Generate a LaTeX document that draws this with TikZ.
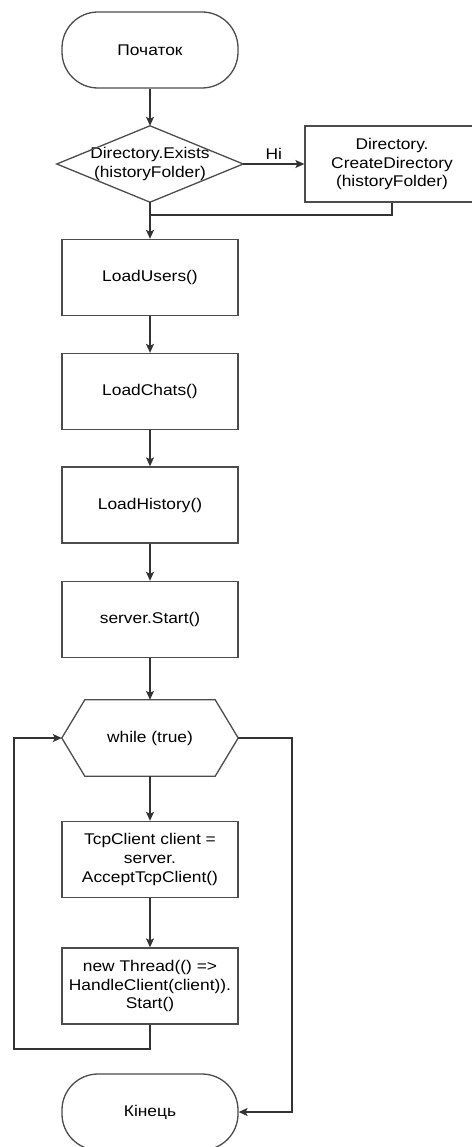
\documentclass[tikz,border=0pt]{standalone}
\usepackage{fontspec}
\setmainfont{Liberation Sans}[FakeStretch=1.12]
\usetikzlibrary{arrows.meta}

\tikzset{
    base/.style={draw=black!70, line width=1.3pt, fill=white, inner sep=2pt,
      font=\fontsize{15.5}{18.6}\selectfont, align=center, text=black},
    terminal/.style={base, minimum width=176pt, minimum height=76pt, rounded corners=36pt},
    process/.style={base, minimum width=176pt, minimum height=76pt},
    hidden/.style={inner sep=0pt, minimum width=#1, minimum height=76pt,
      font=\fontsize{15.5}{18.6}\selectfont, align=center},
    conn/.style={draw=black!80, line width=1.2pt},
    arr/.style={conn, -{Stealth[length=9pt,width=8pt,inset=2pt]}}
}

\begin{document}
\begin{tikzpicture}[x=1pt,y=-1pt]

\useasboundingbox (0,0) rectangle (471,1147);

%%% START AND CHECK %%%
\node[terminal] (beg) at (150,50) {Початок};

\node[hidden=186pt] (dec) at (150,164) {Directory.Exists\\(historyFolder)};
\draw[base, fill=none] (dec.west) -- (dec.north) -- (dec.east) -- (dec.south) -- cycle;

\node[process, minimum width=174pt] (mkd) at (392,164) {Directory.\\CreateDirectory\\(historyFolder)};

%%% LOADING %%%
\node[process] (usr) at (150,277.5) {LoadUsers()};
\node[process] (cht) at (150,391.5) {LoadChats()};
\node[process] (his) at (150,505) {LoadHistory()};
\node[process] (srv) at (150,619.5) {server.Start()};

%%% LOOP %%%
\node[hidden=176pt] (wh) at (150,738) {while (true)};
\draw[base, fill=none] (wh.west) -- ([xshift=23pt]wh.north west) -- ([xshift=-23pt]wh.north east)
  -- (wh.east) -- ([xshift=-23pt]wh.south east) -- ([xshift=23pt]wh.south west) -- cycle;

\node[process] (acc) at (150,859.5) {TcpClient client =\\server.\\AcceptTcpClient()};
\node[process] (thr) at (150,986) {new Thread(() =>\\HandleClient(client)).\\Start()};

\node[terminal] (fin) at (150,1112) {Кінець};

%%% CONNECTORS %%%
\coordinate (mrg) at (150,215);
\coordinate (loopL) at (14,1049);
\coordinate (exitR) at (292,738);

\draw[arr] (beg) -- (dec.north);
\draw[arr] (dec.east) -- (mkd.west) node[midway, above=1pt, font=\fontsize{15.5}{18.6}\selectfont]{Ні};
\draw[conn] (mkd.south) |- (mrg);
\draw[arr] (dec.south) -- (usr.north);
\draw[arr] (usr) -- (cht);
\draw[arr] (cht) -- (his);
\draw[arr] (his) -- (srv);
\draw[arr] (srv) -- (wh.north);
\draw[arr] (wh.south) -- (acc);
\draw[arr] (acc) -- (thr);
\draw[arr] (thr.south) |- (loopL) |- (wh.west);
\draw[arr] (wh.east) -- (exitR) |- (fin.east);

\end{tikzpicture}
\end{document}
